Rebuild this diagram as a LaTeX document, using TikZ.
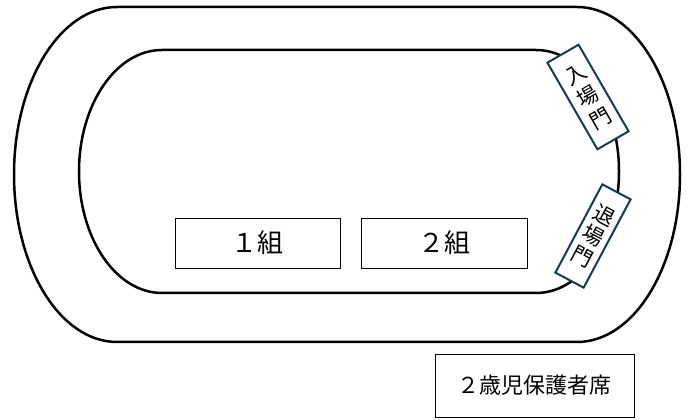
\documentclass[tikz,border=0pt]{standalone}
\usepackage{fontspec}
\setmainfont{Noto Sans CJK JP}
\usepackage{tikz}
\definecolor{gatecol}{RGB}{24,60,74}

\begin{document}
\begin{tikzpicture}[x=1pt,y=1pt]
        \useasboundingbox (0,0) rectangle (691,420);
        % track
        \draw[line width=2.5] (117,413) -- (577,413) arc[start angle=90,end angle=-90,x radius=103,y radius=167.5] -- (117,78) arc[start angle=270,end angle=90,x radius=103,y radius=167.5] -- cycle;
        \draw[line width=2.5] (162,370) -- (536,370) arc[start angle=90,end angle=-90,x radius=83,y radius=121.5] -- (162,127) arc[start angle=270,end angle=90,x radius=83,y radius=121.5] -- cycle;
        % groups
        \node[draw, line width=0.9, minimum width=165, minimum height=50, font=\fontsize{26}{28}\selectfont] (kumi1) at (257.5,177) {１組};
        \node[draw, line width=0.9, minimum width=166, minimum height=50, font=\fontsize{26}{28}\selectfont] (kumi2) at (444,177) {２組};
        \node[draw, line width=0.9, minimum width=199, minimum height=63, font=\fontsize{22}{24}\selectfont] (seki) at (534.5,34.5) {２歳児保護者席};
        % gates
        \node[draw=gatecol, fill=white, line width=2, minimum width=36, minimum height=100, rotate=30, align=center, font=\fontsize{21}{25}\selectfont] (nyujo) at (588,323) {入\\場\\門};
        \node[draw=gatecol, fill=white, line width=2, minimum width=32, minimum height=100, rotate=-28, align=center, font=\fontsize{21}{23.5}\selectfont] (taijo) at (593,184) {退\\場\\門};
    \end{tikzpicture}
\end{document}
